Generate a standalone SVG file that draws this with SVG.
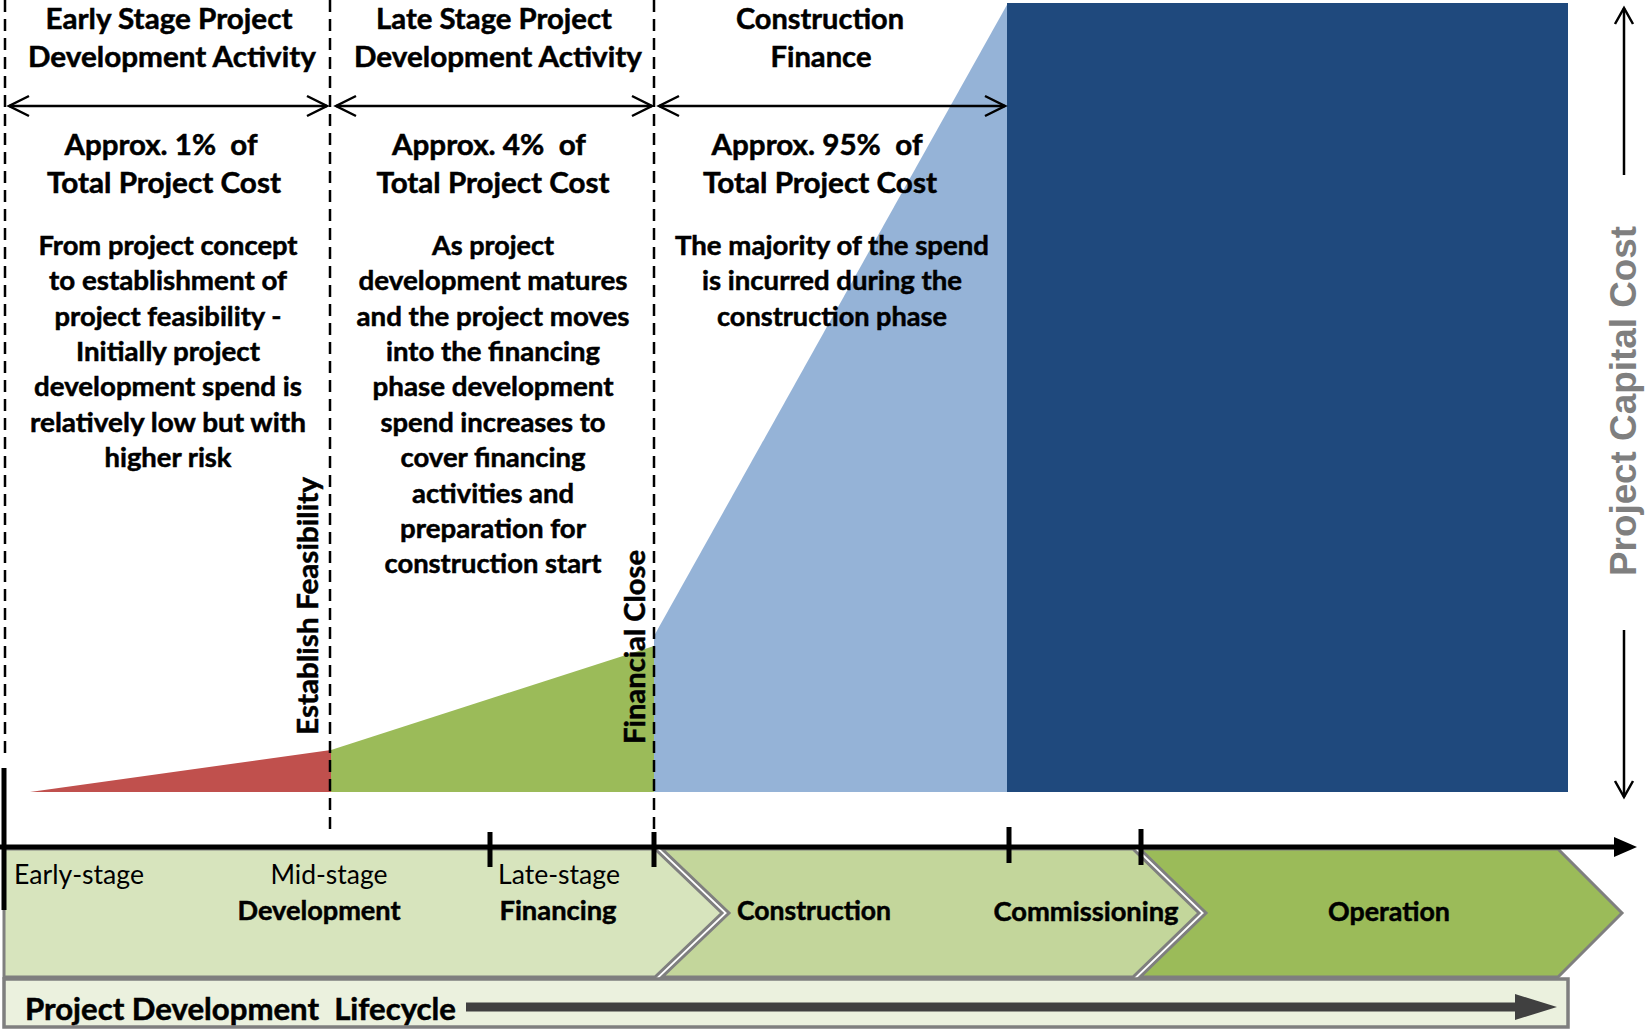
<svg xmlns="http://www.w3.org/2000/svg" width="1648" height="1030" viewBox="0 0 1648 1030">
<style>
.h{font-family:Lato,"Open Sans","Liberation Sans",sans-serif;font-weight:bold;font-size:29px;fill:#000;stroke:#000;stroke-width:0.5;text-anchor:middle}
.b{font-family:Lato,"Open Sans","Liberation Sans",sans-serif;font-weight:bold;font-size:27px;fill:#000;stroke:#000;stroke-width:0.5;text-anchor:middle}
.r{font-family:Lato,"Open Sans","Liberation Sans",sans-serif;font-weight:normal;font-size:27px;fill:#000}
.dash{stroke:#000;stroke-width:2.5;stroke-dasharray:12 7;fill:none}
.tick{stroke:#000;stroke-width:5}
.chev{stroke:#7f7f7f;stroke-width:3}
.dbl{stroke:#000;stroke-width:2.5;fill:none;marker-start:url(#open);marker-end:url(#open)}
</style>
<defs>
<marker id="open" markerUnits="userSpaceOnUse" markerWidth="26" markerHeight="26" viewBox="0 0 26 26" refX="22" refY="12" orient="auto-start-reverse">
<path d="M2,2 L22,12 L2,22" stroke="#000" stroke-width="2.5" fill="none"/>
</marker>
<marker id="open2" markerUnits="userSpaceOnUse" markerWidth="22" markerHeight="22" viewBox="0 0 22 22" refX="18" refY="11" orient="auto">
<path d="M2,2 L18,11 L2,20" stroke="#000" stroke-width="2.5" fill="none"/>
</marker>
</defs>
<rect width="1648" height="1030" fill="#fff"/>

<g id="cost-areas">
<polygon points="30,792 331,750 331,792" fill="#C0504D"/>
<polygon points="331,750 654,646 654,792 331,792" fill="#9BBB59"/>
<polygon points="654,636 1008,3 1008,792 654,792" fill="#95B3D7"/>
<rect x="1007" y="3" width="561" height="789" fill="#1F497D"/>
</g>

<g id="phase-dividers">
<line class="dash" x1="5" y1="0" x2="5" y2="758"/>
<line class="dash" x1="330" y1="0" x2="330" y2="832"/>
<line class="dash" x1="654" y1="0" x2="654" y2="832"/>
</g>

<g id="connectors">
<line class="dbl" x1="9" y1="106" x2="327" y2="106"/>
<line class="dbl" x1="336" y1="106" x2="652" y2="106"/>
<line class="dbl" x1="659" y1="106" x2="1005" y2="106"/>
<line x1="1624" y1="175" x2="1624" y2="8" stroke="#000" stroke-width="2.5" marker-end="url(#open2)"/>
<line x1="1624" y1="630" x2="1624" y2="797" stroke="#000" stroke-width="2.5" marker-end="url(#open2)"/>
</g>

<g id="phase-early">
<text class="h" x="169" y="29" textLength="247" lengthAdjust="spacingAndGlyphs">Early Stage Project</text>
<text class="h" x="172" y="67" textLength="288" lengthAdjust="spacingAndGlyphs">Development Activity</text>
<text class="h" x="161" y="155" textLength="193" lengthAdjust="spacingAndGlyphs" xml:space="preserve">Approx. 1%  of</text>
<text class="h" x="164" y="193" textLength="234" lengthAdjust="spacingAndGlyphs">Total Project Cost</text>
<text class="b" x="168" y="255" textLength="259" lengthAdjust="spacingAndGlyphs">From project concept</text>
<text class="b" x="168" y="290" textLength="238" lengthAdjust="spacingAndGlyphs">to establishment of</text>
<text class="b" x="168" y="326" textLength="227" lengthAdjust="spacingAndGlyphs">project feasibility -</text>
<text class="b" x="168" y="361" textLength="184" lengthAdjust="spacingAndGlyphs">Initially project</text>
<text class="b" x="168" y="396" textLength="268" lengthAdjust="spacingAndGlyphs">development spend is</text>
<text class="b" x="168" y="432" textLength="276" lengthAdjust="spacingAndGlyphs">relatively low but with</text>
<text class="b" x="168" y="467" textLength="127" lengthAdjust="spacingAndGlyphs">higher risk</text>
</g>

<g id="phase-late">
<text class="h" x="494" y="29" textLength="236" lengthAdjust="spacingAndGlyphs">Late Stage Project</text>
<text class="h" x="498" y="67" textLength="288" lengthAdjust="spacingAndGlyphs">Development Activity</text>
<text class="h" x="489" y="155" textLength="194" lengthAdjust="spacingAndGlyphs" xml:space="preserve">Approx. 4%  of</text>
<text class="h" x="493" y="193" textLength="233" lengthAdjust="spacingAndGlyphs">Total Project Cost</text>
<text class="b" x="493" y="255" textLength="122" lengthAdjust="spacingAndGlyphs">As project</text>
<text class="b" x="493" y="290" textLength="269" lengthAdjust="spacingAndGlyphs">development matures</text>
<text class="b" x="493" y="326" textLength="273" lengthAdjust="spacingAndGlyphs">and the project moves</text>
<text class="b" x="493" y="361" textLength="214" lengthAdjust="spacingAndGlyphs">into the financing</text>
<text class="b" x="493" y="396" textLength="241" lengthAdjust="spacingAndGlyphs">phase development</text>
<text class="b" x="493" y="432" textLength="225" lengthAdjust="spacingAndGlyphs">spend increases to</text>
<text class="b" x="493" y="467" textLength="185" lengthAdjust="spacingAndGlyphs">cover financing</text>
<text class="b" x="493" y="503" textLength="162" lengthAdjust="spacingAndGlyphs">activities and</text>
<text class="b" x="493" y="538" textLength="186" lengthAdjust="spacingAndGlyphs">preparation for</text>
<text class="b" x="493" y="573" textLength="217" lengthAdjust="spacingAndGlyphs">construction start</text>
</g>

<g id="phase-construction">
<text class="h" x="820" y="29" textLength="168" lengthAdjust="spacingAndGlyphs">Construction</text>
<text class="h" x="821" y="67" textLength="101" lengthAdjust="spacingAndGlyphs">Finance</text>
<text class="h" x="817" y="155" textLength="211" lengthAdjust="spacingAndGlyphs" xml:space="preserve">Approx. 95%  of</text>
<text class="h" x="820" y="193" textLength="234" lengthAdjust="spacingAndGlyphs">Total Project Cost</text>
<text class="b" x="832" y="255" textLength="314" lengthAdjust="spacingAndGlyphs">The majority of the spend</text>
<text class="b" x="832" y="290" textLength="260" lengthAdjust="spacingAndGlyphs">is incurred during the</text>
<text class="b" x="832" y="326" textLength="230" lengthAdjust="spacingAndGlyphs">construction phase</text>
</g>

<g id="milestone-feasibility">
<text class="b" transform="translate(318,606) rotate(-90)" textLength="258" lengthAdjust="spacingAndGlyphs" style="font-size:29px">Establish Feasibility</text>
</g>
<g id="milestone-financial-close">
<text class="b" transform="translate(645,647) rotate(-90)" textLength="194" lengthAdjust="spacingAndGlyphs" style="font-size:29px">Financial Close</text>
</g>

<g id="capital-cost-axis">
<text transform="translate(1636,401) rotate(-90)" text-anchor="middle" textLength="350" lengthAdjust="spacingAndGlyphs" style="font-family:'Liberation Sans',Arial,sans-serif;font-weight:bold;font-size:36px;fill:#7f7f7f">Project Capital Cost</text>
</g>

<g id="chevron-development">
<polygon class="chev" points="4,849 655,849 722,913 655,977 4,977" fill="#D7E4BD"/>
<text class="r" x="14" y="884" textLength="130" lengthAdjust="spacingAndGlyphs">Early-stage</text>
<text class="r" x="329" y="884" text-anchor="middle" textLength="117" lengthAdjust="spacingAndGlyphs">Mid-stage</text>
<text class="b" x="319" y="920" textLength="163" lengthAdjust="spacingAndGlyphs">Development</text>
<text class="r" x="559" y="884" text-anchor="middle" textLength="122" lengthAdjust="spacingAndGlyphs">Late-stage</text>
<text class="b" x="558" y="920" textLength="117" lengthAdjust="spacingAndGlyphs">Financing</text>
</g>
<g id="chevron-construction">
<polygon class="chev" points="662,849 1133,849 1199,913 1133,977 662,977 729,913" fill="#C3D69B"/>
<text class="b" x="814" y="920" textLength="154" lengthAdjust="spacingAndGlyphs">Construction</text>
<text class="b" x="1086" y="921" textLength="185" lengthAdjust="spacingAndGlyphs">Commissioning</text>
</g>
<g id="chevron-operation">
<polygon class="chev" points="1140,849 1558,849 1622,913 1558,977 1140,977 1206,913" fill="#9BBB59"/>
<text class="b" x="1389" y="921" textLength="122" lengthAdjust="spacingAndGlyphs">Operation</text>
</g>

<g id="timeline-axis">
<line x1="0" y1="847" x2="1618" y2="847" stroke="#000" stroke-width="5"/>
<polygon points="1614,837 1637,847 1614,857" fill="#000"/>
<line x1="4" y1="768" x2="4" y2="910" stroke="#000" stroke-width="5"/>
<line class="tick" x1="490" y1="832" x2="490" y2="867"/>
<line class="tick" x1="654" y1="832" x2="654" y2="867"/>
<line class="tick" x1="1009" y1="827" x2="1009" y2="863"/>
<line class="tick" x1="1141" y1="829" x2="1141" y2="865"/>
</g>

<g id="lifecycle-bar">
<rect x="4" y="979" width="1564" height="48" fill="#EBF1DE" stroke="#7f7f7f" stroke-width="3.5"/>
<text x="25" y="1020" textLength="431" lengthAdjust="spacingAndGlyphs" xml:space="preserve" style="font-family:Lato,'Open Sans','Liberation Sans',sans-serif;font-weight:bold;font-size:30px;fill:#000;stroke:#000;stroke-width:0.5">Project Development  Lifecycle</text>
<line x1="466" y1="1007" x2="1520" y2="1007" stroke="#404040" stroke-width="9"/>
<polygon points="1515,994 1557,1007 1515,1020" fill="#404040"/>
</g>
</svg>
